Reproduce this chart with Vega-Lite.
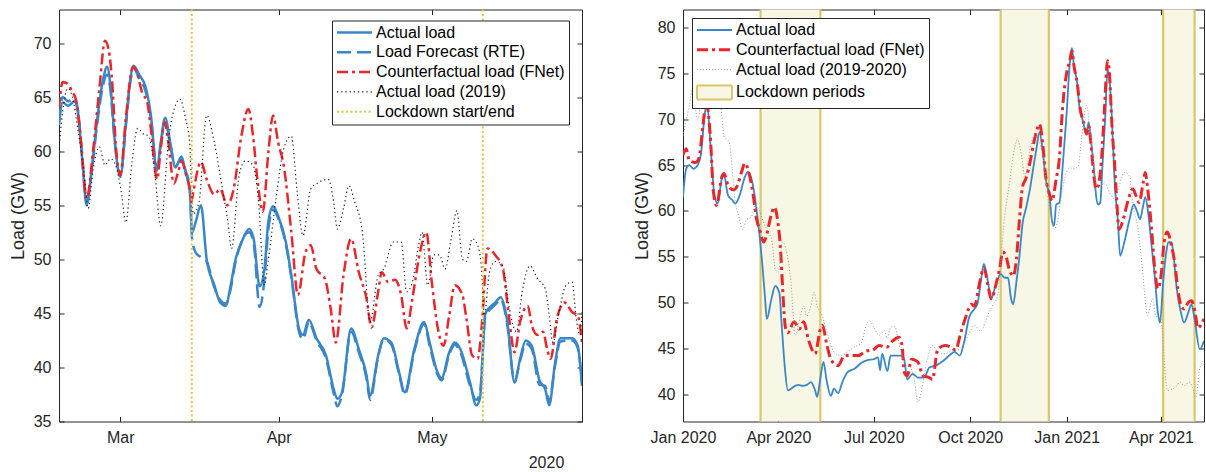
{
"$schema": "https://vega.github.io/schema/vega-lite/v6.json",
"background": "white",
"padding": {"left": 8, "top": 0.5, "right": 0, "bottom": 0},
"config": {
  "font": "Liberation Sans",
  "view": {"stroke": "#262626", "strokeWidth": 1},
  "line": {"interpolate": "monotone"},
  "axis": {"grid": false, "domain": false, "tickColor": "#262626", "tickSize": -5, "tickWidth": 1,
    "labelFont": "Liberation Sans", "labelFontSize": 16, "labelColor": "#262626", "labelPadding": 13,
    "labelFlush": false, "labelOverlap": false, "titleFont": "Liberation Sans", "titleFontSize": 18,
    "titleFontWeight": "normal", "titleColor": "#262626", "titlePadding": 6},
  "legend": {"labelFont": "Liberation Sans", "labelFontSize": 16, "labelColor": "#000000", "strokeColor": "#262626",
    "fillColor": "#ffffff", "padding": 4, "rowPadding": 3.8, "symbolOffset": 10.5, "labelOffset": 13.5,
    "symbolOpacity": 1, "labelLimit": 400},
  "concat": {"spacing": 49}
},
"datasets": {
"La": [{"t":"2020-02-18T00:00","v":62.4},{"t":"2020-02-18T17:00","v":64.5},{"t":"2020-02-19T19:00","v":64.2},{"t":"2020-02-21T00:00","v":64.6},{"t":"2020-02-21T17:00","v":63.6},{"t":"2020-02-22T12:00","v":59.5},{"t":"2020-02-23T10:00","v":55.0},{"t":"2020-02-24T10:00","v":58.4},{"t":"2020-02-25T12:00","v":63.0},{"t":"2020-02-26T14:00","v":66.5},{"t":"2020-02-27T10:00","v":67.8},{"t":"2020-02-28T02:00","v":66.0},{"t":"2020-02-28T22:00","v":61.0},{"t":"2020-03-01T00:00","v":57.6},{"t":"2020-03-02T03:00","v":62.7},{"t":"2020-03-02T22:00","v":66.5},{"t":"2020-03-03T15:00","v":67.9},{"t":"2020-03-04T19:00","v":67.0},{"t":"2020-03-05T22:00","v":66.0},{"t":"2020-03-07T00:00","v":63.3},{"t":"2020-03-08T04:00","v":58.2},{"t":"2020-03-08T22:00","v":60.8},{"t":"2020-03-09T19:00","v":63.1},{"t":"2020-03-10T19:00","v":60.8},{"t":"2020-03-11T19:00","v":58.5},{"t":"2020-03-13T00:00","v":59.5},{"t":"2020-03-13T19:00","v":58.0},{"t":"2020-03-14T14:00","v":56.5},{"t":"2020-03-15T02:00","v":52.5},{"t":"2020-03-15T19:00","v":53.5},{"t":"2020-03-16T19:00","v":55.0},{"t":"2020-03-17T22:00","v":50.0},{"t":"2020-03-19T10:00","v":47.6},{"t":"2020-03-20T14:00","v":46.0},{"t":"2020-03-21T17:00","v":45.7},{"t":"2020-03-22T12:00","v":47.3},{"t":"2020-03-23T14:00","v":50.0},{"t":"2020-03-24T17:00","v":51.5},{"t":"2020-03-26T05:00","v":52.8},{"t":"2020-03-27T02:00","v":52.0},{"t":"2020-03-28T07:00","v":47.5},{"t":"2020-03-29T05:00","v":49.0},{"t":"2020-03-30T00:00","v":53.5},{"t":"2020-03-30T22:00","v":54.9},{"t":"2020-03-31T22:00","v":54.0},{"t":"2020-04-02T10:00","v":51.6},{"t":"2020-04-03T12:00","v":48.5},{"t":"2020-04-05T00:00","v":43.6},{"t":"2020-04-05T19:00","v":43.0},{"t":"2020-04-06T22:00","v":44.4},{"t":"2020-04-08T10:00","v":42.7},{"t":"2020-04-10T07:00","v":41.1},{"t":"2020-04-11T19:00","v":38.0},{"t":"2020-04-12T12:00","v":37.1},{"t":"2020-04-13T10:00","v":37.7},{"t":"2020-04-15T05:00","v":43.6},{"t":"2020-04-16T17:00","v":41.7},{"t":"2020-04-18T05:00","v":39.3},{"t":"2020-04-18T22:00","v":37.4},{"t":"2020-04-20T12:00","v":41.1},{"t":"2020-04-21T14:00","v":42.7},{"t":"2020-04-23T02:00","v":42.3},{"t":"2020-04-24T14:00","v":39.6},{"t":"2020-04-25T17:00","v":37.7},{"t":"2020-04-27T14:00","v":41.7},{"t":"2020-04-29T12:00","v":44.2},{"t":"2020-04-30T14:00","v":42.3},{"t":"2020-05-02T02:00","v":39.6},{"t":"2020-05-02T22:00","v":39.0},{"t":"2020-05-04T10:00","v":41.4},{"t":"2020-05-05T12:00","v":42.3},{"t":"2020-05-06T14:00","v":41.7},{"t":"2020-05-08T12:00","v":38.6},{"t":"2020-05-09T17:00","v":36.5},{"t":"2020-05-10T10:00","v":37.1},{"t":"2020-05-11T12:00","v":45.0},{"t":"2020-05-13T10:00","v":46.0},{"t":"2020-05-14T12:00","v":46.5},{"t":"2020-05-15T17:00","v":44.5},{"t":"2020-05-17T05:00","v":38.6},{"t":"2020-05-18T07:00","v":40.8},{"t":"2020-05-19T10:00","v":42.5},{"t":"2020-05-20T14:00","v":42.0},{"t":"2020-05-22T02:00","v":38.8},{"t":"2020-05-23T05:00","v":38.0},{"t":"2020-05-24T00:00","v":36.5},{"t":"2020-05-25T02:00","v":40.2},{"t":"2020-05-26T05:00","v":42.7},{"t":"2020-05-28T12:00","v":42.7},{"t":"2020-05-29T14:00","v":42.0},{"t":"2020-05-30T10:00","v":38.3}],
"Lf": [{"t":"2020-02-18T00:00","v":62.8},{"t":"2020-02-18T17:00","v":65.0},{"t":"2020-02-19T19:00","v":64.6},{"t":"2020-02-21T00:00","v":64.9},{"t":"2020-02-21T17:00","v":63.8},{"t":"2020-02-22T12:00","v":59.8},{"t":"2020-02-23T10:00","v":55.4},{"t":"2020-02-24T10:00","v":58.2},{"t":"2020-02-25T12:00","v":62.6},{"t":"2020-02-26T14:00","v":66.0},{"t":"2020-02-27T10:00","v":67.1},{"t":"2020-02-28T02:00","v":65.6},{"t":"2020-02-28T22:00","v":60.8},{"t":"2020-03-01T00:00","v":57.8},{"t":"2020-03-02T03:00","v":62.5},{"t":"2020-03-02T22:00","v":66.2},{"t":"2020-03-03T15:00","v":67.7},{"t":"2020-03-04T19:00","v":66.6},{"t":"2020-03-05T22:00","v":65.6},{"t":"2020-03-07T00:00","v":63.0},{"t":"2020-03-08T04:00","v":58.4},{"t":"2020-03-08T22:00","v":60.6},{"t":"2020-03-09T19:00","v":62.8},{"t":"2020-03-10T19:00","v":60.5},{"t":"2020-03-11T19:00","v":58.6},{"t":"2020-03-13T00:00","v":59.3},{"t":"2020-03-13T19:00","v":58.2},{"t":"2020-03-14T14:00","v":56.8},{"t":"2020-03-15T02:00","v":51.8},{"t":"2020-03-15T19:00","v":50.6},{"t":"2020-03-16T19:00","v":50.2},{"t":"2020-03-17T22:00","v":49.8},{"t":"2020-03-19T10:00","v":47.4},{"t":"2020-03-20T14:00","v":46.2},{"t":"2020-03-21T17:00","v":45.9},{"t":"2020-03-22T12:00","v":47.0},{"t":"2020-03-23T14:00","v":49.8},{"t":"2020-03-24T17:00","v":51.6},{"t":"2020-03-26T05:00","v":52.5},{"t":"2020-03-27T02:00","v":51.6},{"t":"2020-03-28T07:00","v":45.6},{"t":"2020-03-29T05:00","v":48.0},{"t":"2020-03-30T00:00","v":52.8},{"t":"2020-03-30T22:00","v":54.6},{"t":"2020-03-31T22:00","v":53.8},{"t":"2020-04-02T10:00","v":51.4},{"t":"2020-04-03T12:00","v":48.3},{"t":"2020-04-05T00:00","v":43.3},{"t":"2020-04-05T19:00","v":42.6},{"t":"2020-04-06T22:00","v":44.2},{"t":"2020-04-08T10:00","v":42.5},{"t":"2020-04-10T07:00","v":40.8},{"t":"2020-04-11T19:00","v":37.6},{"t":"2020-04-12T12:00","v":36.4},{"t":"2020-04-13T10:00","v":37.5},{"t":"2020-04-15T05:00","v":43.3},{"t":"2020-04-16T17:00","v":41.4},{"t":"2020-04-18T05:00","v":39.0},{"t":"2020-04-18T22:00","v":37.0},{"t":"2020-04-20T12:00","v":41.0},{"t":"2020-04-21T14:00","v":42.6},{"t":"2020-04-23T02:00","v":42.1},{"t":"2020-04-24T14:00","v":39.4},{"t":"2020-04-25T17:00","v":37.5},{"t":"2020-04-27T14:00","v":41.5},{"t":"2020-04-29T12:00","v":44.0},{"t":"2020-04-30T14:00","v":42.0},{"t":"2020-05-02T02:00","v":39.4},{"t":"2020-05-02T22:00","v":38.8},{"t":"2020-05-04T10:00","v":41.2},{"t":"2020-05-05T12:00","v":42.1},{"t":"2020-05-06T14:00","v":41.4},{"t":"2020-05-08T12:00","v":38.3},{"t":"2020-05-09T17:00","v":37.0},{"t":"2020-05-10T10:00","v":37.6},{"t":"2020-05-11T12:00","v":44.7},{"t":"2020-05-13T10:00","v":45.8},{"t":"2020-05-14T12:00","v":46.3},{"t":"2020-05-15T17:00","v":44.2},{"t":"2020-05-17T05:00","v":38.8},{"t":"2020-05-18T07:00","v":40.6},{"t":"2020-05-19T10:00","v":42.2},{"t":"2020-05-20T14:00","v":41.7},{"t":"2020-05-22T02:00","v":38.4},{"t":"2020-05-23T05:00","v":38.3},{"t":"2020-05-24T00:00","v":36.8},{"t":"2020-05-25T02:00","v":40.0},{"t":"2020-05-26T05:00","v":42.4},{"t":"2020-05-28T12:00","v":42.5},{"t":"2020-05-29T14:00","v":41.8},{"t":"2020-05-30T10:00","v":38.6}],
"Lc": [{"t":"2020-02-18T00:00","v":63.9},{"t":"2020-02-18T17:00","v":66.4},{"t":"2020-02-19T19:00","v":66.2},{"t":"2020-02-20T14:00","v":65.5},{"t":"2020-02-21T07:00","v":64.8},{"t":"2020-02-22T05:00","v":61.4},{"t":"2020-02-23T10:00","v":55.6},{"t":"2020-02-24T17:00","v":60.2},{"t":"2020-02-25T22:00","v":65.8},{"t":"2020-02-27T00:00","v":70.2},{"t":"2020-02-27T17:00","v":69.4},{"t":"2020-02-28T12:00","v":65.8},{"t":"2020-02-29T02:00","v":60.8},{"t":"2020-03-01T00:00","v":57.8},{"t":"2020-03-02T02:00","v":63.0},{"t":"2020-03-03T12:00","v":67.8},{"t":"2020-03-04T10:00","v":67.0},{"t":"2020-03-05T07:00","v":65.4},{"t":"2020-03-06T07:00","v":64.5},{"t":"2020-03-07T00:00","v":62.0},{"t":"2020-03-08T05:00","v":57.4},{"t":"2020-03-08T22:00","v":60.2},{"t":"2020-03-09T17:00","v":62.7},{"t":"2020-03-10T10:00","v":60.8},{"t":"2020-03-11T12:00","v":57.0},{"t":"2020-03-12T07:00","v":58.0},{"t":"2020-03-13T00:00","v":59.1},{"t":"2020-03-13T19:00","v":58.0},{"t":"2020-03-14T14:00","v":56.5},{"t":"2020-03-14T22:00","v":55.3},{"t":"2020-03-15T07:00","v":56.2},{"t":"2020-03-16T19:00","v":59.0},{"t":"2020-03-17T22:00","v":57.4},{"t":"2020-03-19T10:00","v":56.0},{"t":"2020-03-20T14:00","v":56.5},{"t":"2020-03-21T22:00","v":55.0},{"t":"2020-03-23T05:00","v":56.5},{"t":"2020-03-24T17:00","v":61.4},{"t":"2020-03-26T02:00","v":63.9},{"t":"2020-03-27T00:00","v":61.4},{"t":"2020-03-27T22:00","v":57.1},{"t":"2020-03-28T22:00","v":54.4},{"t":"2020-03-30T00:00","v":59.9},{"t":"2020-03-30T22:00","v":63.3},{"t":"2020-03-31T22:00","v":60.8},{"t":"2020-04-02T00:00","v":58.7},{"t":"2020-04-03T12:00","v":52.5},{"t":"2020-04-04T19:00","v":46.7},{"t":"2020-04-06T07:00","v":50.7},{"t":"2020-04-07T07:00","v":51.3},{"t":"2020-04-08T10:00","v":49.1},{"t":"2020-04-10T02:00","v":48.2},{"t":"2020-04-11T05:00","v":45.4},{"t":"2020-04-12T05:00","v":42.3},{"t":"2020-04-13T17:00","v":48.5},{"t":"2020-04-15T05:00","v":51.9},{"t":"2020-04-16T17:00","v":48.8},{"t":"2020-04-18T05:00","v":46.4},{"t":"2020-04-19T05:00","v":43.7},{"t":"2020-04-20T12:00","v":47.0},{"t":"2020-04-21T05:00","v":48.8},{"t":"2020-04-22T10:00","v":47.9},{"t":"2020-04-23T19:00","v":48.1},{"t":"2020-04-25T00:00","v":46.7},{"t":"2020-04-26T02:00","v":43.6},{"t":"2020-04-27T05:00","v":46.4},{"t":"2020-04-28T17:00","v":50.7},{"t":"2020-04-29T22:00","v":52.5},{"t":"2020-05-01T00:00","v":47.9},{"t":"2020-05-02T02:00","v":43.9},{"t":"2020-05-03T07:00","v":42.0},{"t":"2020-05-04T10:00","v":44.8},{"t":"2020-05-05T12:00","v":47.6},{"t":"2020-05-07T00:00","v":46.7},{"t":"2020-05-07T19:00","v":44.5},{"t":"2020-05-08T22:00","v":41.1},{"t":"2020-05-10T00:00","v":40.8},{"t":"2020-05-10T19:00","v":43.9},{"t":"2020-05-11T22:00","v":51.0},{"t":"2020-05-13T10:00","v":50.4},{"t":"2020-05-14T22:00","v":49.1},{"t":"2020-05-16T02:00","v":44.8},{"t":"2020-05-17T05:00","v":41.4},{"t":"2020-05-18T07:00","v":44.2},{"t":"2020-05-19T19:00","v":45.7},{"t":"2020-05-20T14:00","v":43.9},{"t":"2020-05-21T17:00","v":43.0},{"t":"2020-05-22T19:00","v":43.3},{"t":"2020-05-23T14:00","v":41.7},{"t":"2020-05-24T07:00","v":40.8},{"t":"2020-05-25T12:00","v":44.5},{"t":"2020-05-27T00:00","v":46.0},{"t":"2020-05-28T12:00","v":45.1},{"t":"2020-05-29T14:00","v":44.8},{"t":"2020-05-30T10:00","v":42.3}],
"Lp": [{"t":"2020-02-18T00:00","v":60.2},{"t":"2020-02-18T17:00","v":63.6},{"t":"2020-02-19T17:00","v":65.8},{"t":"2020-02-20T14:00","v":65.1},{"t":"2020-02-21T17:00","v":62.0},{"t":"2020-02-22T19:00","v":58.4},{"t":"2020-02-23T17:00","v":54.7},{"t":"2020-02-24T17:00","v":58.4},{"t":"2020-02-25T22:00","v":60.4},{"t":"2020-02-27T00:00","v":58.7},{"t":"2020-02-28T02:00","v":59.3},{"t":"2020-02-29T02:00","v":58.7},{"t":"2020-03-01T05:00","v":56.2},{"t":"2020-03-02T02:00","v":53.4},{"t":"2020-03-03T07:00","v":59.0},{"t":"2020-03-04T10:00","v":62.1},{"t":"2020-03-05T12:00","v":61.6},{"t":"2020-03-06T14:00","v":61.4},{"t":"2020-03-07T19:00","v":57.8},{"t":"2020-03-08T22:00","v":53.1},{"t":"2020-03-10T10:00","v":60.8},{"t":"2020-03-11T05:00","v":63.3},{"t":"2020-03-12T17:00","v":64.8},{"t":"2020-03-13T19:00","v":63.0},{"t":"2020-03-14T14:00","v":60.8},{"t":"2020-03-15T07:00","v":54.2},{"t":"2020-03-16T10:00","v":55.3},{"t":"2020-03-17T22:00","v":63.3},{"t":"2020-03-19T10:00","v":60.8},{"t":"2020-03-21T00:00","v":56.5},{"t":"2020-03-22T02:00","v":53.4},{"t":"2020-03-22T19:00","v":51.0},{"t":"2020-03-24T07:00","v":57.8},{"t":"2020-03-25T12:00","v":59.1},{"t":"2020-03-27T00:00","v":58.7},{"t":"2020-03-28T02:00","v":55.3},{"t":"2020-03-29T05:00","v":47.6},{"t":"2020-03-30T00:00","v":50.0},{"t":"2020-03-31T12:00","v":55.6},{"t":"2020-04-02T00:00","v":60.2},{"t":"2020-04-03T12:00","v":61.4},{"t":"2020-04-04T14:00","v":56.5},{"t":"2020-04-05T19:00","v":52.2},{"t":"2020-04-07T07:00","v":56.5},{"t":"2020-04-08T19:00","v":57.1},{"t":"2020-04-10T17:00","v":57.4},{"t":"2020-04-11T19:00","v":55.3},{"t":"2020-04-12T12:00","v":52.8},{"t":"2020-04-13T17:00","v":54.7},{"t":"2020-04-14T19:00","v":56.8},{"t":"2020-04-15T22:00","v":55.3},{"t":"2020-04-17T10:00","v":52.5},{"t":"2020-04-18T22:00","v":44.2},{"t":"2020-04-20T12:00","v":48.5},{"t":"2020-04-21T14:00","v":49.1},{"t":"2020-04-23T12:00","v":51.6},{"t":"2020-04-25T00:00","v":51.6},{"t":"2020-04-26T02:00","v":47.0},{"t":"2020-04-27T05:00","v":47.9},{"t":"2020-04-28T10:00","v":51.3},{"t":"2020-04-29T02:00","v":52.5},{"t":"2020-04-30T05:00","v":47.6},{"t":"2020-05-01T10:00","v":50.4},{"t":"2020-05-02T12:00","v":50.4},{"t":"2020-05-03T14:00","v":49.1},{"t":"2020-05-04T19:00","v":51.9},{"t":"2020-05-05T22:00","v":54.5},{"t":"2020-05-07T00:00","v":50.0},{"t":"2020-05-07T19:00","v":49.8},{"t":"2020-05-08T22:00","v":51.9},{"t":"2020-05-10T00:00","v":51.3},{"t":"2020-05-10T19:00","v":48.8},{"t":"2020-05-11T07:00","v":44.8},{"t":"2020-05-12T07:00","v":48.8},{"t":"2020-05-13T10:00","v":49.8},{"t":"2020-05-14T22:00","v":49.4},{"t":"2020-05-16T02:00","v":45.7},{"t":"2020-05-17T14:00","v":43.3},{"t":"2020-05-18T17:00","v":47.0},{"t":"2020-05-20T05:00","v":49.4},{"t":"2020-05-21T17:00","v":48.2},{"t":"2020-05-23T05:00","v":47.3},{"t":"2020-05-24T00:00","v":44.8},{"t":"2020-05-24T17:00","v":42.3},{"t":"2020-05-25T19:00","v":44.8},{"t":"2020-05-27T07:00","v":47.6},{"t":"2020-05-28T12:00","v":47.9},{"t":"2020-05-29T05:00","v":44.8},{"t":"2020-05-30T00:00","v":43.0},{"t":"2020-05-30T10:00","v":45.1}],
"LL": [{"t":"2020-03-15T00:00"},{"t":"2020-05-11T00:00"}],
"LG": [{"s":"Actual load"},{"s":"Load Forecast (RTE)"},{"s":"Counterfactual load (FNet)"},{"s":"Actual load (2019)"},{"s":"Lockdown start/end"}],
"Ra": [{"t":"2020/01/01","v":61.5},{"t":"2020/01/04","v":64.6},{"t":"2020/01/07","v":65.0},{"t":"2020/01/11","v":64.6},{"t":"2020/01/15","v":65.0},{"t":"2020/01/18","v":66.1},{"t":"2020/01/22","v":70.8},{"t":"2020/01/24","v":71.7},{"t":"2020/01/27","v":67.5},{"t":"2020/01/31","v":61.7},{"t":"2020/02/03","v":60.8},{"t":"2020/02/07","v":63.5},{"t":"2020/02/09","v":63.9},{"t":"2020/02/13","v":61.7},{"t":"2020/02/17","v":61.2},{"t":"2020/02/20","v":60.8},{"t":"2020/02/24","v":61.7},{"t":"2020/02/29","v":63.7},{"t":"2020/03/03","v":64.3},{"t":"2020/03/07","v":63.2},{"t":"2020/03/11","v":60.3},{"t":"2020/03/15","v":56.2},{"t":"2020/03/17","v":53.7},{"t":"2020/03/19","v":50.9},{"t":"2020/03/21","v":48.2},{"t":"2020/03/25","v":50.2},{"t":"2020/03/29","v":51.8},{"t":"2020/04/02","v":51.0},{"t":"2020/04/04","v":47.8},{"t":"2020/04/07","v":43.1},{"t":"2020/04/10","v":40.4},{"t":"2020/04/17","v":40.9},{"t":"2020/04/20","v":41.0},{"t":"2020/04/24","v":40.9},{"t":"2020/04/28","v":41.0},{"t":"2020/05/02","v":41.3},{"t":"2020/05/06","v":40.4},{"t":"2020/05/08","v":39.7},{"t":"2020/05/11","v":41.7},{"t":"2020/05/14","v":43.5},{"t":"2020/05/17","v":41.5},{"t":"2020/05/21","v":39.8},{"t":"2020/05/24","v":40.6},{"t":"2020/05/28","v":40.1},{"t":"2020/06/01","v":41.3},{"t":"2020/06/06","v":42.4},{"t":"2020/06/13","v":42.8},{"t":"2020/06/19","v":43.4},{"t":"2020/06/25","v":43.7},{"t":"2020/07/01","v":43.8},{"t":"2020/07/05","v":44.0},{"t":"2020/07/07","v":42.6},{"t":"2020/07/09","v":44.4},{"t":"2020/07/14","v":42.5},{"t":"2020/07/17","v":44.2},{"t":"2020/07/27","v":44.2},{"t":"2020/07/30","v":43.8},{"t":"2020/08/02","v":41.6},{"t":"2020/08/07","v":42.2},{"t":"2020/08/12","v":41.8},{"t":"2020/08/18","v":41.8},{"t":"2020/08/23","v":42.9},{"t":"2020/08/29","v":43.1},{"t":"2020/09/05","v":43.6},{"t":"2020/09/11","v":44.2},{"t":"2020/09/16","v":44.6},{"t":"2020/09/21","v":44.2},{"t":"2020/09/25","v":45.6},{"t":"2020/09/30","v":48.4},{"t":"2020/10/05","v":49.3},{"t":"2020/10/08","v":49.9},{"t":"2020/10/11","v":52.2},{"t":"2020/10/14","v":54.2},{"t":"2020/10/18","v":52.2},{"t":"2020/10/21","v":50.4},{"t":"2020/10/25","v":51.8},{"t":"2020/10/30","v":53.1},{"t":"2020/11/03","v":52.7},{"t":"2020/11/06","v":52.7},{"t":"2020/11/09","v":50.4},{"t":"2020/11/11","v":49.8},{"t":"2020/11/14","v":52.2},{"t":"2020/11/17","v":55.1},{"t":"2020/11/20","v":58.7},{"t":"2020/11/23","v":60.2},{"t":"2020/11/27","v":62.4},{"t":"2020/11/30","v":64.6},{"t":"2020/12/03","v":66.7},{"t":"2020/12/06","v":68.6},{"t":"2020/12/09","v":66.7},{"t":"2020/12/12","v":63.5},{"t":"2020/12/16","v":61.3},{"t":"2020/12/18","v":58.9},{"t":"2020/12/20","v":58.4},{"t":"2020/12/22","v":60.7},{"t":"2020/12/25","v":60.9},{"t":"2020/12/28","v":64.6},{"t":"2021/01/01","v":70.7},{"t":"2021/01/04","v":76.2},{"t":"2021/01/06","v":77.8},{"t":"2021/01/08","v":75.8},{"t":"2021/01/11","v":74.0},{"t":"2021/01/13","v":71.5},{"t":"2021/01/16","v":70.0},{"t":"2021/01/20","v":68.6},{"t":"2021/01/22","v":69.7},{"t":"2021/01/24","v":67.8},{"t":"2021/01/27","v":64.6},{"t":"2021/01/29","v":61.7},{"t":"2021/01/31","v":60.7},{"t":"2021/02/02","v":60.9},{"t":"2021/02/04","v":64.6},{"t":"2021/02/07","v":70.7},{"t":"2021/02/09","v":75.5},{"t":"2021/02/12","v":72.6},{"t":"2021/02/14","v":67.8},{"t":"2021/02/16","v":62.7},{"t":"2021/02/19","v":58.7},{"t":"2021/02/21","v":55.1},{"t":"2021/02/25","v":56.6},{"t":"2021/03/02","v":59.1},{"t":"2021/03/06","v":60.7},{"t":"2021/03/09","v":60.0},{"t":"2021/03/12","v":59.1},{"t":"2021/03/15","v":60.6},{"t":"2021/03/17","v":61.5},{"t":"2021/03/20","v":59.5},{"t":"2021/03/23","v":56.2},{"t":"2021/03/26","v":52.9},{"t":"2021/03/29","v":48.9},{"t":"2021/03/31","v":47.8},{"t":"2021/04/03","v":52.2},{"t":"2021/04/06","v":55.5},{"t":"2021/04/08","v":56.6},{"t":"2021/04/11","v":56.6},{"t":"2021/04/13","v":55.1},{"t":"2021/04/16","v":51.5},{"t":"2021/04/20","v":48.9},{"t":"2021/04/23","v":47.8},{"t":"2021/04/27","v":48.9},{"t":"2021/04/30","v":49.8},{"t":"2021/05/03","v":48.2},{"t":"2021/05/08","v":44.9},{"t":"2021/05/12","v":45.8}],
"Rc": [{"t":"2020/01/01","v":66.1},{"t":"2020/01/04","v":66.8},{"t":"2020/01/07","v":65.5},{"t":"2020/01/13","v":65.3},{"t":"2020/01/16","v":65.7},{"t":"2020/01/20","v":69.3},{"t":"2020/01/23","v":71.9},{"t":"2020/01/27","v":68.3},{"t":"2020/01/30","v":62.1},{"t":"2020/02/02","v":60.6},{"t":"2020/02/07","v":63.7},{"t":"2020/02/09","v":64.1},{"t":"2020/02/13","v":62.8},{"t":"2020/02/18","v":62.3},{"t":"2020/02/22","v":62.8},{"t":"2020/02/26","v":64.3},{"t":"2020/02/29","v":65.2},{"t":"2020/03/04","v":64.1},{"t":"2020/03/08","v":61.7},{"t":"2020/03/11","v":59.2},{"t":"2020/03/14","v":58.0},{"t":"2020/03/18","v":56.6},{"t":"2020/03/21","v":57.5},{"t":"2020/03/25","v":59.5},{"t":"2020/03/28","v":60.4},{"t":"2020/04/02","v":57.3},{"t":"2020/04/08","v":47.1},{"t":"2020/04/10","v":46.7},{"t":"2020/04/16","v":47.9},{"t":"2020/04/21","v":47.1},{"t":"2020/04/25","v":47.9},{"t":"2020/04/30","v":45.8},{"t":"2020/05/06","v":44.4},{"t":"2020/05/11","v":47.1},{"t":"2020/05/13","v":47.5},{"t":"2020/05/17","v":45.5},{"t":"2020/05/21","v":43.8},{"t":"2020/05/28","v":43.1},{"t":"2020/06/03","v":44.2},{"t":"2020/06/16","v":44.2},{"t":"2020/06/24","v":44.7},{"t":"2020/06/30","v":44.8},{"t":"2020/07/06","v":45.3},{"t":"2020/07/13","v":45.1},{"t":"2020/07/19","v":45.8},{"t":"2020/07/25","v":46.2},{"t":"2020/07/28","v":45.3},{"t":"2020/07/30","v":42.4},{"t":"2020/08/02","v":42.0},{"t":"2020/08/06","v":43.8},{"t":"2020/08/12","v":43.5},{"t":"2020/08/17","v":42.0},{"t":"2020/08/23","v":41.8},{"t":"2020/08/26","v":41.6},{"t":"2020/08/31","v":44.9},{"t":"2020/09/07","v":45.3},{"t":"2020/09/13","v":45.1},{"t":"2020/09/17","v":44.8},{"t":"2020/09/22","v":46.7},{"t":"2020/09/27","v":48.5},{"t":"2020/10/02","v":49.8},{"t":"2020/10/05","v":49.6},{"t":"2020/10/10","v":52.2},{"t":"2020/10/14","v":53.8},{"t":"2020/10/18","v":51.8},{"t":"2020/10/21","v":50.4},{"t":"2020/10/26","v":52.2},{"t":"2020/10/29","v":53.7},{"t":"2020/11/01","v":55.5},{"t":"2020/11/04","v":55.1},{"t":"2020/11/07","v":53.7},{"t":"2020/11/11","v":52.9},{"t":"2020/11/14","v":54.7},{"t":"2020/11/17","v":59.1},{"t":"2020/11/20","v":62.7},{"t":"2020/11/23","v":63.5},{"t":"2020/11/27","v":65.3},{"t":"2020/11/30","v":67.1},{"t":"2020/12/03","v":68.6},{"t":"2020/12/06","v":69.5},{"t":"2020/12/09","v":67.5},{"t":"2020/12/12","v":63.8},{"t":"2020/12/16","v":61.7},{"t":"2020/12/18","v":61.1},{"t":"2020/12/22","v":63.5},{"t":"2020/12/25","v":65.7},{"t":"2020/12/28","v":71.1},{"t":"2021/01/01","v":75.1},{"t":"2021/01/04","v":76.4},{"t":"2021/01/06","v":77.5},{"t":"2021/01/08","v":75.8},{"t":"2021/01/11","v":74.0},{"t":"2021/01/14","v":71.1},{"t":"2021/01/17","v":69.7},{"t":"2021/01/20","v":68.4},{"t":"2021/01/22","v":69.3},{"t":"2021/01/24","v":67.5},{"t":"2021/01/27","v":63.8},{"t":"2021/01/29","v":62.4},{"t":"2021/01/31","v":62.7},{"t":"2021/02/03","v":65.3},{"t":"2021/02/06","v":71.1},{"t":"2021/02/09","v":76.4},{"t":"2021/02/11","v":74.7},{"t":"2021/02/13","v":69.7},{"t":"2021/02/16","v":64.6},{"t":"2021/02/18","v":60.6},{"t":"2021/02/20","v":58.0},{"t":"2021/02/24","v":59.1},{"t":"2021/02/28","v":60.9},{"t":"2021/03/05","v":62.4},{"t":"2021/03/08","v":61.7},{"t":"2021/03/11","v":60.9},{"t":"2021/03/15","v":63.1},{"t":"2021/03/17","v":64.2},{"t":"2021/03/19","v":62.7},{"t":"2021/03/23","v":58.0},{"t":"2021/03/26","v":53.7},{"t":"2021/03/29","v":51.5},{"t":"2021/04/01","v":52.9},{"t":"2021/04/04","v":56.6},{"t":"2021/04/07","v":57.7},{"t":"2021/04/11","v":56.2},{"t":"2021/04/14","v":54.4},{"t":"2021/04/17","v":51.5},{"t":"2021/04/20","v":49.7},{"t":"2021/04/23","v":49.3},{"t":"2021/04/27","v":50.0},{"t":"2021/04/30","v":50.2},{"t":"2021/05/04","v":48.6},{"t":"2021/05/06","v":47.2},{"t":"2021/05/12","v":48.2}],
"Rp": [{"t":"2020/01/01","v":68.2},{"t":"2020/01/07","v":71.5},{"t":"2020/01/10","v":73.3},{"t":"2020/01/15","v":70.0},{"t":"2020/01/18","v":71.8},{"t":"2020/01/21","v":73.3},{"t":"2020/01/26","v":72.9},{"t":"2020/01/31","v":73.5},{"t":"2020/02/06","v":71.5},{"t":"2020/02/09","v":68.2},{"t":"2020/02/14","v":67.5},{"t":"2020/02/17","v":64.6},{"t":"2020/02/20","v":60.9},{"t":"2020/02/23","v":59.5},{"t":"2020/02/27","v":58.0},{"t":"2020/03/02","v":59.1},{"t":"2020/03/06","v":59.3},{"t":"2020/03/10","v":60.6},{"t":"2020/03/13","v":60.3},{"t":"2020/03/18","v":58.7},{"t":"2020/03/21","v":58.0},{"t":"2020/03/26","v":56.6},{"t":"2020/03/29","v":53.6},{"t":"2020/04/01","v":53.3},{"t":"2020/04/05","v":56.6},{"t":"2020/04/08","v":55.9},{"t":"2020/04/13","v":52.2},{"t":"2020/04/17","v":46.4},{"t":"2020/04/22","v":48.5},{"t":"2020/04/25","v":49.6},{"t":"2020/04/28","v":48.5},{"t":"2020/05/02","v":49.6},{"t":"2020/05/05","v":51.1},{"t":"2020/05/08","v":49.6},{"t":"2020/05/13","v":48.5},{"t":"2020/05/18","v":46.4},{"t":"2020/05/24","v":44.6},{"t":"2020/05/31","v":44.2},{"t":"2020/06/06","v":44.6},{"t":"2020/06/12","v":45.1},{"t":"2020/06/19","v":45.6},{"t":"2020/06/24","v":47.6},{"t":"2020/06/27","v":48.0},{"t":"2020/07/02","v":47.1},{"t":"2020/07/06","v":46.4},{"t":"2020/07/11","v":46.9},{"t":"2020/07/14","v":46.1},{"t":"2020/07/17","v":47.3},{"t":"2020/07/21","v":47.4},{"t":"2020/07/24","v":46.1},{"t":"2020/07/27","v":44.6},{"t":"2020/07/30","v":43.5},{"t":"2020/08/04","v":43.1},{"t":"2020/08/09","v":41.3},{"t":"2020/08/12","v":39.1},{"t":"2020/08/17","v":41.3},{"t":"2020/08/21","v":43.8},{"t":"2020/08/26","v":45.3},{"t":"2020/08/31","v":44.6},{"t":"2020/09/07","v":44.4},{"t":"2020/09/13","v":44.7},{"t":"2020/09/19","v":44.8},{"t":"2020/09/25","v":45.5},{"t":"2020/09/30","v":46.6},{"t":"2020/10/05","v":47.5},{"t":"2020/10/11","v":46.9},{"t":"2020/10/18","v":48.7},{"t":"2020/10/23","v":49.8},{"t":"2020/10/27","v":50.7},{"t":"2020/10/30","v":54.5},{"t":"2020/11/03","v":59.5},{"t":"2020/11/07","v":62.7},{"t":"2020/11/12","v":66.7},{"t":"2020/11/15","v":67.8},{"t":"2020/11/19","v":66.0},{"t":"2020/11/22","v":63.8},{"t":"2020/11/27","v":66.7},{"t":"2020/12/01","v":68.2},{"t":"2020/12/06","v":67.5},{"t":"2020/12/11","v":64.6},{"t":"2020/12/14","v":61.7},{"t":"2020/12/17","v":59.5},{"t":"2020/12/20","v":58.0},{"t":"2020/12/23","v":58.7},{"t":"2020/12/27","v":61.7},{"t":"2020/12/30","v":63.5},{"t":"2021/01/04","v":64.7},{"t":"2021/01/08","v":64.6},{"t":"2021/01/12","v":64.9},{"t":"2021/01/15","v":67.8},{"t":"2021/01/20","v":71.5},{"t":"2021/01/23","v":69.3},{"t":"2021/01/26","v":66.0},{"t":"2021/01/29","v":63.1},{"t":"2021/02/02","v":62.7},{"t":"2021/02/06","v":63.1},{"t":"2021/02/11","v":62.0},{"t":"2021/02/16","v":61.3},{"t":"2021/02/20","v":62.7},{"t":"2021/02/25","v":64.2},{"t":"2021/03/02","v":63.8},{"t":"2021/03/05","v":60.9},{"t":"2021/03/10","v":58.0},{"t":"2021/03/13","v":55.1},{"t":"2021/03/16","v":51.5},{"t":"2021/03/19","v":48.6},{"t":"2021/03/22","v":49.7},{"t":"2021/03/24","v":50.4},{"t":"2021/03/27","v":48.5},{"t":"2021/04/01","v":48.2},{"t":"2021/04/04","v":43.8},{"t":"2021/04/07","v":40.4},{"t":"2021/04/16","v":40.9},{"t":"2021/04/19","v":41.3},{"t":"2021/04/23","v":40.9},{"t":"2021/04/28","v":41.3},{"t":"2021/05/01","v":40.7},{"t":"2021/05/04","v":39.6},{"t":"2021/05/08","v":42.8},{"t":"2021/05/11","v":43.6}],
"RL": [{"a":"2020/03/15","b":"2020/05/11"},{"a":"2020/10/30","b":"2020/12/15"},{"a":"2021/04/03","b":"2021/05/03"}],
"RG": [{"s":"Actual load"},{"s":"Counterfactual load (FNet)"},{"s":"Actual load (2019-2020)"},{"s":"Lockdown periods"}]
},
"resolve": {
  "scale": {"stroke": "independent", "shape": "independent", "strokeDash": "independent", "strokeWidth": "independent"},
  "legend": {"stroke": "independent", "shape": "independent", "strokeDash": "independent", "strokeWidth": "independent"}
},
"hconcat": [
{
  "width": 523, "height": 412,
  "title": {"text": " ", "fontSize": 2, "offset": 5},
  "layer": [
    {"data": {"name": "La"}, "mark": {"type": "line", "stroke": "#3b86c7", "strokeWidth": 2.5, "clip": true},
     "encoding": {
       "x": {"field": "t", "type": "temporal",
             "scale": {"domain": [{"year": 2020, "month": 2, "date": 18}, {"year": 2020, "month": 5, "date": 30, "hours": 10}]},
             "axis": {"orient": "bottom", "format": "%b", "values": [{"year": 2020, "month": 3, "date": 1}, {"year": 2020, "month": 4, "date": 1}, {"year": 2020, "month": 5, "date": 1}],
                      "title": "2020", "titleFontSize": 16, "titleX": 487, "titleY": 46, "titleAlign": "center", "titleBaseline": "alphabetic"}},
       "y": {"field": "v", "type": "quantitative", "scale": {"domain": [35, 73.1], "nice": false, "zero": false},
             "axis": {"orient": "left", "values": [35, 40, 45, 50, 55, 60, 65, 70], "title": "Load (GW)"}}
     }},
    {"data": {"name": "Lf"}, "mark": {"type": "line", "stroke": "#3b86c7", "strokeWidth": 2.5, "strokeDash": [14, 6], "clip": true},
     "encoding": {
       "x": {"field": "t", "type": "temporal",
             "scale": {"domain": [{"year": 2020, "month": 2, "date": 18}, {"year": 2020, "month": 5, "date": 30, "hours": 10}]},
             "axis": {"orient": "top", "labels": false, "title": null, "values": [{"year": 2020, "month": 3, "date": 1}, {"year": 2020, "month": 4, "date": 1}, {"year": 2020, "month": 5, "date": 1}]}},
       "y": {"field": "v", "type": "quantitative", "scale": {"domain": [35, 73.1], "nice": false, "zero": false},
             "axis": {"orient": "right", "labels": false, "title": null, "values": [35, 40, 45, 50, 55, 60, 65, 70]}}
     }},
    {"data": {"name": "Lc"}, "mark": {"type": "line", "stroke": "#e8272d", "strokeWidth": 2.5, "strokeDash": [11, 4, 3, 4], "clip": true},
     "encoding": {
       "x": {"field": "t", "type": "temporal", "axis": null},
       "y": {"field": "v", "type": "quantitative", "axis": null}
     }},
    {"data": {"name": "Lp"}, "mark": {"type": "line", "stroke": "#1a1a1a", "strokeWidth": 1.2, "strokeDash": [1.2, 3], "clip": true},
     "encoding": {
       "x": {"field": "t", "type": "temporal", "axis": null},
       "y": {"field": "v", "type": "quantitative", "axis": null}
     }},
    {"data": {"name": "LL"}, "mark": {"type": "rule", "stroke": "#e3c342", "strokeWidth": 2, "strokeDash": [2, 2.5]},
     "encoding": {"x": {"field": "t", "type": "temporal", "axis": null}}},
    {"data": {"name": "LG"}, "transform": [{"filter": "false"}],
     "mark": {"type": "point", "opacity": 1, "filled": false},
     "encoding": {
       "size": {"value": 100},
       "stroke": {"field": "s", "type": "nominal",
         "scale": {"domain": ["Actual load", "Load Forecast (RTE)", "Counterfactual load (FNet)", "Actual load (2019)", "Lockdown start/end"],
                   "range": ["#3b86c7", "#3b86c7", "#e8272d", "#1a1a1a", "#e3c342"]},
         "legend": {"title": null, "orient": "none", "legendX": 273, "legendY": 11}},
       "shape": {"field": "s", "type": "nominal",
         "scale": {"domain": ["Actual load", "Load Forecast (RTE)", "Counterfactual load (FNet)", "Actual load (2019)", "Lockdown start/end"],
                   "range": ["M-3.5,0H3.5", "M-3.5,0H3.5", "M-3.5,0H3.5", "M-3.5,0H3.5", "M-3.5,0H3.5"]},
         "legend": {"title": null, "orient": "none", "legendX": 273, "legendY": 11}},
       "strokeDash": {"field": "s", "type": "nominal",
         "scale": {"domain": ["Actual load", "Load Forecast (RTE)", "Counterfactual load (FNet)", "Actual load (2019)", "Lockdown start/end"],
                   "range": [[1, 0], [14, 6], [11, 4, 3, 4], [1.2, 3], [2, 2.5]]},
         "legend": {"title": null, "orient": "none", "legendX": 273, "legendY": 11}},
       "strokeWidth": {"field": "s", "type": "nominal",
         "scale": {"type": "ordinal", "domain": ["Actual load", "Load Forecast (RTE)", "Counterfactual load (FNet)", "Actual load (2019)", "Lockdown start/end"],
                   "range": [2.5, 2.5, 2.5, 1.2, 2]},
         "legend": {"title": null, "orient": "none", "legendX": 273, "legendY": 11}}
     }}
  ]
},
{
  "width": 521, "height": 412,
  "layer": [
    {"data": {"name": "RL"}, "mark": {"type": "rect", "fill": "#f8f6e4"},
     "encoding": {
       "x": {"field": "a", "type": "temporal", "axis": null,
             "scale": {"domain": [{"year": 2020, "month": 1, "date": 1}, {"year": 2021, "month": 5, "date": 12}]}},
       "x2": {"field": "b"}
     }},
    {"data": {"name": "RL"}, "mark": {"type": "rule", "stroke": "#dac868", "strokeWidth": 2.2},
     "encoding": {"x": {"field": "a", "type": "temporal", "axis": null}}},
    {"data": {"name": "RL"}, "mark": {"type": "rule", "stroke": "#dac868", "strokeWidth": 2.2},
     "encoding": {"x": {"field": "b", "type": "temporal", "axis": null}}},
    {"data": {"name": "Ra"}, "mark": {"type": "line", "stroke": "#3b86c7", "strokeWidth": 1.8, "clip": true},
     "encoding": {
       "x": {"field": "t", "type": "temporal",
             "scale": {"domain": [{"year": 2020, "month": 1, "date": 1}, {"year": 2021, "month": 5, "date": 12}]},
             "axis": {"orient": "bottom", "format": "%b %Y", "title": null,
                      "values": [{"year": 2020, "month": 1, "date": 1}, {"year": 2020, "month": 4, "date": 1}, {"year": 2020, "month": 7, "date": 1}, {"year": 2020, "month": 10, "date": 1}, {"year": 2021, "month": 1, "date": 1}, {"year": 2021, "month": 4, "date": 1}]}},
       "y": {"field": "v", "type": "quantitative", "scale": {"domain": [37, 82], "nice": false, "zero": false},
             "axis": {"orient": "left", "values": [40, 45, 50, 55, 60, 65, 70, 75, 80], "title": "Load (GW)"}}
     }},
    {"data": {"name": "Rc"}, "mark": {"type": "line", "stroke": "#e8272d", "strokeWidth": 3, "strokeDash": [11, 4, 3, 4], "clip": true},
     "encoding": {
       "x": {"field": "t", "type": "temporal",
             "scale": {"domain": [{"year": 2020, "month": 1, "date": 1}, {"year": 2021, "month": 5, "date": 12}]},
             "axis": {"orient": "top", "labels": false, "title": null,
                      "values": [{"year": 2020, "month": 1, "date": 1}, {"year": 2020, "month": 4, "date": 1}, {"year": 2020, "month": 7, "date": 1}, {"year": 2020, "month": 10, "date": 1}, {"year": 2021, "month": 1, "date": 1}, {"year": 2021, "month": 4, "date": 1}]}},
       "y": {"field": "v", "type": "quantitative", "scale": {"domain": [37, 82], "nice": false, "zero": false},
             "axis": {"orient": "right", "labels": false, "title": null, "values": [40, 45, 50, 55, 60, 65, 70, 75, 80]}}
     }},
    {"data": {"name": "Rp"}, "mark": {"type": "line", "stroke": "#9a9a9a", "strokeWidth": 1, "strokeDash": [1, 2], "clip": true},
     "encoding": {
       "x": {"field": "t", "type": "temporal", "axis": null},
       "y": {"field": "v", "type": "quantitative", "axis": null}
     }},
    {"data": {"name": "RG"}, "transform": [{"filter": "false"}],
     "mark": {"type": "point", "opacity": 1, "filled": false, "fill": "#f8f6e4"},
     "encoding": {
       "size": {"value": 100},
       "stroke": {"field": "s", "type": "nominal",
         "scale": {"domain": ["Actual load", "Counterfactual load (FNet)", "Actual load (2019-2020)", "Lockdown periods"],
                   "range": ["#3b86c7", "#e8272d", "#9a9a9a", "#dac868"]},
         "legend": {"title": null, "orient": "none", "legendX": 9, "legendY": 8.5, "symbolFillColor": "#f8f6e4"}},
       "shape": {"field": "s", "type": "nominal",
         "scale": {"domain": ["Actual load", "Counterfactual load (FNet)", "Actual load (2019-2020)", "Lockdown periods"],
                   "range": ["M-3.5,0H3.5", "M-3.5,0H3.5", "M-3.5,0H3.5", "M-3.5,-1.4H3.5V1.4H-3.5Z"]},
         "legend": {"title": null, "orient": "none", "legendX": 9, "legendY": 8.5, "symbolFillColor": "#f8f6e4"}},
       "strokeDash": {"field": "s", "type": "nominal",
         "scale": {"domain": ["Actual load", "Counterfactual load (FNet)", "Actual load (2019-2020)", "Lockdown periods"],
                   "range": [[1, 0], [11, 4, 3, 4], [1, 2], [1, 0]]},
         "legend": {"title": null, "orient": "none", "legendX": 9, "legendY": 8.5, "symbolFillColor": "#f8f6e4"}},
       "strokeWidth": {"field": "s", "type": "nominal",
         "scale": {"type": "ordinal", "domain": ["Actual load", "Counterfactual load (FNet)", "Actual load (2019-2020)", "Lockdown periods"],
                   "range": [2, 3, 1, 2]},
         "legend": {"title": null, "orient": "none", "legendX": 9, "legendY": 8.5, "symbolFillColor": "#f8f6e4"}}
     }}
  ]
}
]
}
